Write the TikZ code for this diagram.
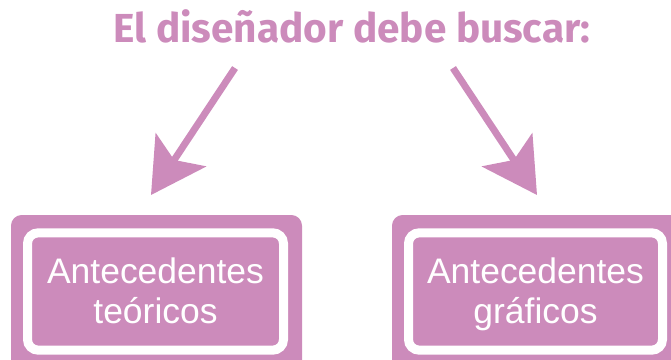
\documentclass[tikz,border=0pt]{standalone}
\usepackage{fontspec}
\setmainfont{Liberation Sans}
\newfontfamily\titlefont{Fira Sans}
\usepackage{xcolor}
\usetikzlibrary{arrows.meta,positioning}
\definecolor{rosa}{RGB}{204,139,187}
\newcommand{\WS}[1]{\textcolor{white}{\vphantom{Ág}#1}}

\begin{document}
\begin{tikzpicture}[x=0.75pt,y=-0.75pt,
  outerbox/.style={fill=rosa,rounded corners=8pt},
  innerbox/.style={draw=white,fill=rosa,line width=6.75pt,rounded corners=8pt,
    minimum height=88pt,align=center,inner sep=0pt,
    font=\fontsize{26.6}{30}\selectfont},
  pointer/.style={draw=rosa,line width=5.2pt,
    -{Stealth[length=40.5pt,width=45pt,inset=9pt]}}]
  \useasboundingbox (0,0) rectangle (671,360);
  \clip (0,0) rectangle (671,360);

  % title
  \node[anchor=base,font=\titlefont\bfseries\fontsize{30.4}{32}\selectfont,text=rosa]
    (title) at (352,43) {El diseñador debe buscar:};

  % pink boxes
  \fill[outerbox] (11,215) rectangle (302,380);
  \fill[outerbox] (392,215) rectangle (690,380);

  \node[innerbox,minimum width=192pt] (teo) at (155.5,291.5)
    {\WS{Antecedentes}\\\WS{teóricos}};
  \node[innerbox,minimum width=190.5pt] (gra) at (535.5,291.5)
    {\WS{Antecedentes}\\\WS{gráficos}};

  % arrows
  \coordinate (ls) at (235,68);
  \coordinate (lt) at (151,195);
  \coordinate (rs) at (453,68);
  \coordinate (rt) at (537,195);
  \draw[pointer] (ls) -- (lt);
  \draw[pointer] (rs) -- (rt);
\end{tikzpicture}
\end{document}
